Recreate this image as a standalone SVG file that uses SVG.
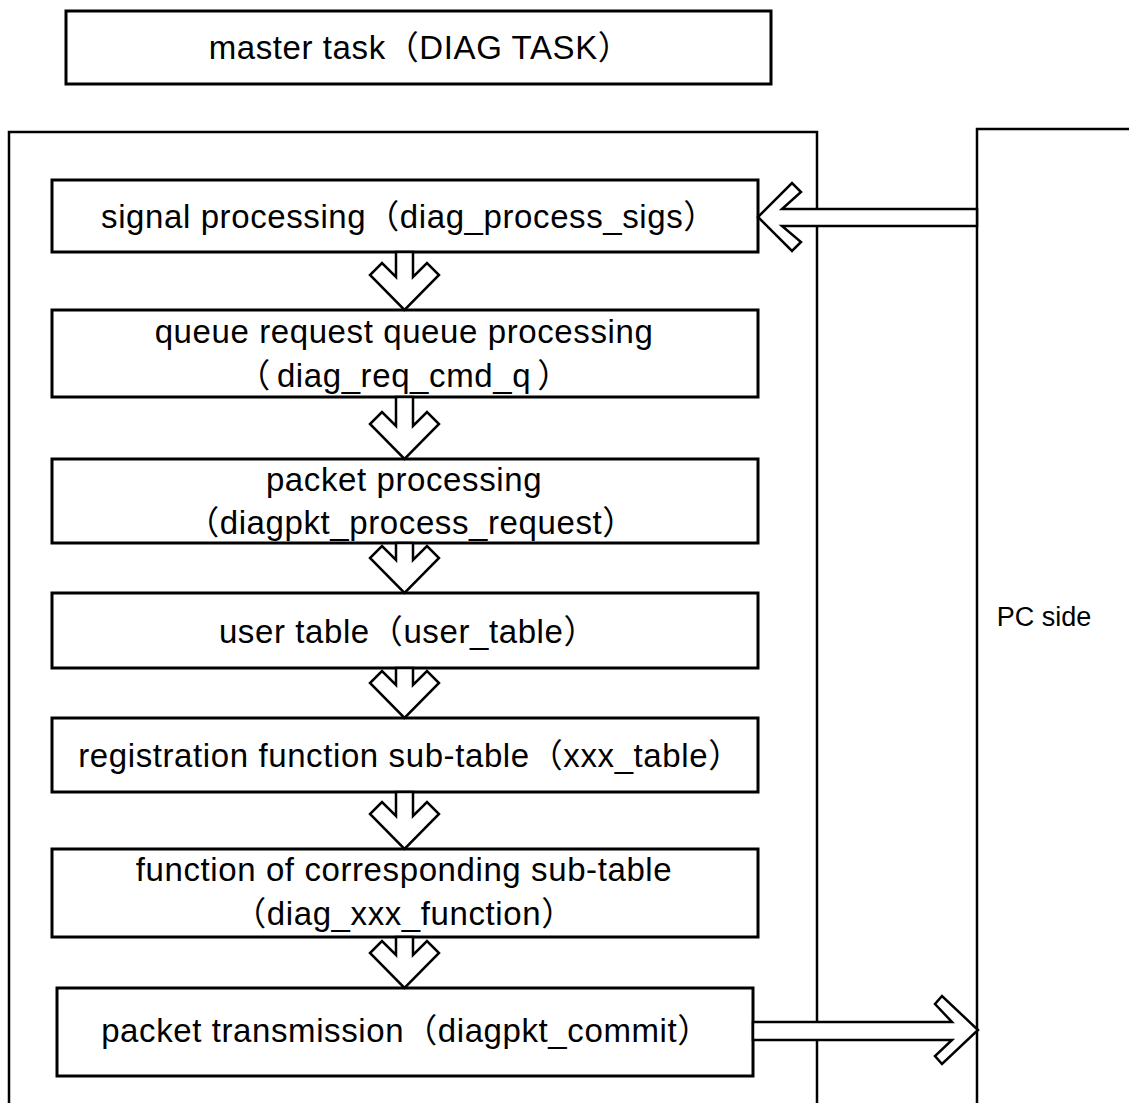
<svg xmlns="http://www.w3.org/2000/svg" width="1129" height="1103" viewBox="0 0 1129 1103">
<style>
.box{fill:#fff;stroke:#000;stroke-width:3}
.frame{fill:none;stroke:#000;stroke-width:2.5}
.arr{fill:#fff;stroke:#000;stroke-width:2.5;stroke-linejoin:miter}
text{font-family:"Liberation Sans","Noto Sans CJK SC",Arial,sans-serif;font-size:33px;letter-spacing:0.6px;fill:#000;text-anchor:middle;dominant-baseline:central}
</style>
<rect width="1129" height="1103" fill="#fff"/>
<g id="master-task">
<rect class="box" x="66" y="11" width="705" height="73"/>
<text x="420" y="47">master task（DIAG  TASK）</text>
</g>
<g id="diag-frame">
<rect class="frame" x="9" y="132" width="808" height="1000"/>
</g>
<g id="pc-side">
<rect class="frame" x="977" y="129" width="200" height="1000"/>
<text x="1044" y="617" style="font-size:27px;letter-spacing:0">PC side</text>
</g>
<g id="signal-processing">
<rect class="box" x="52" y="180" width="706" height="72"/>
<text x="409" y="216">signal processing（diag_process_sigs）</text>
</g>
<g id="queue-processing">
<rect class="box" x="52" y="310" width="706" height="87"/>
<text x="404" y="331">queue request queue processing</text>
<text x="404" y="375">（<tspan dx="6">diag_req_cmd_q</tspan><tspan dx="6">）</tspan></text>
</g>
<g id="packet-processing">
<rect class="box" x="52" y="459" width="706" height="84"/>
<text x="404" y="479">packet processing</text>
<text x="411" y="522">（diagpkt_process_request）</text>
</g>
<g id="user-table">
<rect class="box" x="52" y="593" width="706" height="75"/>
<text x="408" y="631">user table（user_table）</text>
</g>
<g id="registration-sub-table">
<rect class="box" x="52" y="718" width="706" height="74"/>
<text x="410" y="755">registration function sub-table（xxx_table）</text>
</g>
<g id="sub-table-function">
<rect class="box" x="52" y="849" width="706" height="88"/>
<text x="404" y="869">function of corresponding sub-table</text>
<text x="404" y="913">（diag_xxx_function）</text>
</g>
<g id="packet-transmission">
<rect class="box" x="57" y="988" width="696" height="88"/>
<text x="406" y="1030">packet transmission（diagpkt_commit）</text>
</g>
<g id="connectors">
<polygon class="arr" points="977,209 782,209 801,192 792,183 758,217 792,251 801,242 782,226 977,226"/>
<polygon class="arr" points="396,252 396,277 382,263 370,275 404.5,310 439,275 427,263 413,277 413,252"/>
<polygon class="arr" points="396,397 396,426 382,412 370,424 404.5,459 439,424 427,412 413,426 413,397"/>
<polygon class="arr" points="396,543 396,560 382,546 370,558 404.5,593 439,558 427,546 413,560 413,543"/>
<polygon class="arr" points="396,668 396,685 382,671 370,683 404.5,718 439,683 427,671 413,685 413,668"/>
<polygon class="arr" points="396,792 396,816 382,802 370,814 404.5,849 439,814 427,802 413,816 413,792"/>
<polygon class="arr" points="396,937 396,955 382,941 370,953 404.5,988 439,953 427,941 413,955 413,937"/>
<polygon class="arr" points="753,1022 952,1022 935,1004 942,996 978,1030 942,1064 935,1056 952,1040 753,1040"/>
</g>
</svg>
